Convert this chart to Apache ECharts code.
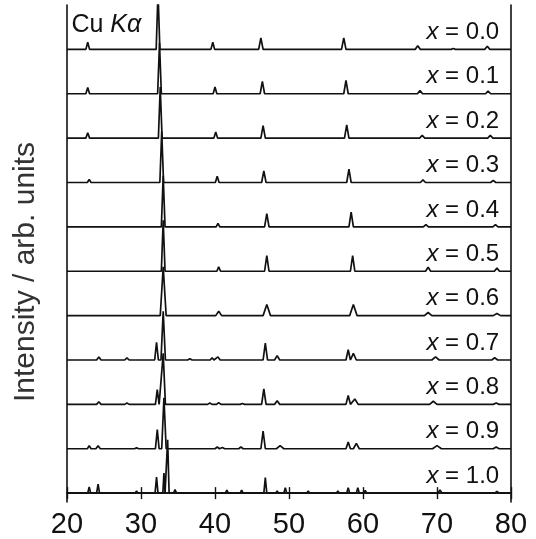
<!DOCTYPE html>
<html><head><meta charset="utf-8">
<script src="https://cdn.jsdelivr.net/npm/echarts@6/dist/echarts.min.js"></script>
<style>html,body{margin:0;padding:0;background:#fff}#c{width:536px;height:539px}</style>
</head><body><div id="c"></div>
<script>
// composition labels, top to bottom
const compositions = ['0.0','0.1','0.2','0.3','0.4','0.5','0.6','0.7','0.8','0.9','1.0'];
// peaks: [2theta (deg), height (trace units), half width (deg)]
const peaks_x00 = [[22.8,0.16,0.25],[25.4,0.03,0.2],[32.3,1.3,0.25],[34.3,0.02,0.2],[38.2,0.02,0.2],[39.7,0.16,0.25],[46.2,0.26,0.3],[52.2,0.03,0.2],[53.3,0.03,0.2],[57.4,0.26,0.3],[67.4,0.08,0.35],[72.2,0.02,0.3],[76.8,0.07,0.35]];
const peaks_x01 = [[22.8,0.14,0.25],[25.4,0.02,0.2],[32.5,1.15,0.25],[40.0,0.15,0.25],[46.4,0.28,0.3],[52.7,0.03,0.2],[57.7,0.3,0.3],[67.7,0.07,0.35],[76.9,0.06,0.35]];
const peaks_x02 = [[22.8,0.12,0.25],[25.7,0.03,0.2],[32.6,1.15,0.25],[40.1,0.14,0.25],[46.5,0.28,0.3],[53.0,0.02,0.2],[57.8,0.3,0.3],[68.0,0.06,0.35],[77.2,0.06,0.35]];
const peaks_x03 = [[23.0,0.07,0.25],[25.9,0.03,0.2],[32.8,1.15,0.25],[38.6,0.02,0.2],[40.3,0.14,0.25],[46.6,0.26,0.3],[53.4,0.02,0.2],[58.1,0.3,0.3],[68.1,0.06,0.35],[77.6,0.05,0.35]];
const peaks_x04 = [[23.1,0.03,0.25],[25.7,0.02,0.2],[33.0,1.15,0.25],[40.4,0.08,0.25],[47.0,0.3,0.3],[58.4,0.33,0.3],[68.5,0.05,0.35],[77.9,0.05,0.35]];
const peaks_x05 = [[23.2,0.02,0.25],[33.0,1.15,0.25],[40.5,0.1,0.25],[47.0,0.35,0.3],[58.6,0.35,0.3],[68.8,0.09,0.35],[78.1,0.07,0.35]];
const peaks_x06 = [[33.0,1.1,0.4],[40.5,0.1,0.4],[47.0,0.25,0.5],[58.7,0.25,0.5],[68.8,0.07,0.5],[78.1,0.05,0.5]];
const peaks_x07 = [[21.9,0.04,0.25],[24.3,0.07,0.3],[28.1,0.05,0.3],[32.1,0.4,0.25],[33.0,1.1,0.3],[36.6,0.03,0.3],[39.6,0.05,0.25],[40.4,0.07,0.3],[46.8,0.38,0.3],[48.4,0.1,0.35],[58.0,0.23,0.3],[58.7,0.15,0.4],[69.8,0.07,0.5],[77.8,0.05,0.4]];
const peaks_x08 = [[23.0,0.04,0.25],[24.3,0.06,0.3],[28.1,0.03,0.3],[32.2,0.33,0.25],[33.0,1.15,0.3],[39.3,0.03,0.3],[40.5,0.04,0.3],[43.7,0.02,0.3],[46.6,0.35,0.3],[48.4,0.08,0.35],[58.0,0.2,0.3],[58.9,0.12,0.45],[69.5,0.07,0.5],[78.0,0.03,0.4]];
const peaks_x09 = [[23.0,0.07,0.25],[24.2,0.07,0.3],[29.4,0.02,0.3],[32.2,0.43,0.25],[33.1,1.15,0.3],[40.3,0.04,0.3],[41.0,0.03,0.3],[43.5,0.04,0.3],[46.5,0.4,0.3],[48.8,0.07,0.5],[58.0,0.15,0.3],[59.1,0.12,0.4],[70.0,0.07,0.6],[78.0,0.04,0.4]];
const peaks_x10 = [[23.0,0.14,0.2],[24.2,0.2,0.2],[29.4,0.05,0.2],[32.1,0.36,0.2],[33.1,0.45,0.15],[33.6,1.2,0.2],[34.6,0.08,0.2],[36.3,0.03,0.2],[38.4,0.03,0.2],[40.4,0.03,0.2],[41.6,0.07,0.2],[43.6,0.07,0.2],[46.8,0.35,0.2],[48.4,0.05,0.2],[49.5,0.12,0.2],[52.6,0.05,0.2],[56.6,0.05,0.2],[58.0,0.12,0.2],[59.3,0.12,0.2],[60.3,0.06,0.2],[61.0,0.04,0.2],[70.4,0.07,0.3],[78.1,0.04,0.3]];
const allPeaks = [peaks_x00,peaks_x01,peaks_x02,peaks_x03,peaks_x04,peaks_x05,peaks_x06,peaks_x07,peaks_x08,peaks_x09,peaks_x10];
const xTicks = [20,30,40,50,60,70,80];
const xMin = 20, xMax = 80;
const yMin = -0.2, yMax = 11.0;

function buildTrace(peaks, offset){
  const pts = [[xMin, offset]];
  peaks.forEach(([p,h,w]) => { pts.push([p-w, offset],[p, offset+h],[p+w, offset]); });
  pts.push([xMax, offset]);
  return pts;
}
const n = compositions.length;
const series = allPeaks.map((pk, i) => ({
  type:'line', name:'x = '+compositions[i], data: buildTrace(pk, n-1-i),
  showSymbol:false, symbol:'none', clip:true, animation:false,
  lineStyle:{color:'#111', width:1.7}
}));
const FONT = "'Liberation Sans', Arial, sans-serif";
const chart = echarts.init(document.getElementById('c'), null, {renderer:'canvas'});
const axisLineStyle = {color:'#111', width:1.6};
chart.setOption({
  animation:false,
  grid:{left:67, right:25, top:5, bottom:37},
  xAxis:[
    {type:'value', min:xMin, max:xMax, interval:10, position:'bottom',
     axisLine:{show:true, lineStyle:axisLineStyle},
     axisTick:{show:true, inside:true, length:6, lineStyle:{color:'#111', width:1.4}},
     axisLabel:{show:true, margin:8, fontSize:29, color:'#111', fontFamily:FONT,
       formatter: v => xTicks.includes(v) ? String(v) : ''},
     splitLine:{show:false}},
    {type:'value', min:xMin, max:xMax, interval:10, position:'top',
     axisLine:{show:true, lineStyle:axisLineStyle},
     axisTick:{show:true, inside:true, length:6, lineStyle:{color:'#111', width:1.4}},
     axisLabel:{show:false}, splitLine:{show:false}}
  ],
  yAxis:[
    {type:'value', min:yMin, max:yMax, position:'left',
     axisLine:{show:true, lineStyle:axisLineStyle}, axisTick:{show:false},
     axisLabel:{show:false}, splitLine:{show:false}},
    {type:'value', min:yMin, max:yMax, position:'right',
     axisLine:{show:true, lineStyle:axisLineStyle}, axisTick:{show:false},
     axisLabel:{show:false}, splitLine:{show:false}}
  ],
  series: series
});
// text overlays positioned through the axis scales
const graphics = [];
compositions.forEach((c, i) => {
  const p = chart.convertToPixel({xAxisIndex:0, yAxisIndex:0}, [78.4, n-1-i]);
  graphics.push({type:'text', x:p[0], y:p[1]-17, z:10,
    style:{text:'{i|x} = '+c, font:"24px "+FONT, fill:'#111', align:'right', verticalAlign:'middle',
      rich:{i:{fontStyle:'italic', fontSize:24, fontFamily:FONT, fill:'#111'}}}});
});
const cu = chart.convertToPixel({xAxisIndex:0, yAxisIndex:0}, [20.6, 10.55]);
graphics.push({type:'text', x:cu[0], y:cu[1], z:10,
  style:{text:'Cu {i|K\u03B1}', font:"25px "+FONT, fill:'#111', align:'left', verticalAlign:'middle',
    rich:{i:{fontStyle:'italic', fontSize:25, fontFamily:FONT, fill:'#111'}}}});
graphics.push({type:'text', x:26, y:272, rotation:Math.PI/2, z:10,
  style:{text:'Intensity / arb. units', font:"30px "+FONT, fill:'#333', align:'center', verticalAlign:'middle'}});
chart.setOption({graphic:graphics});
</script></body></html>
